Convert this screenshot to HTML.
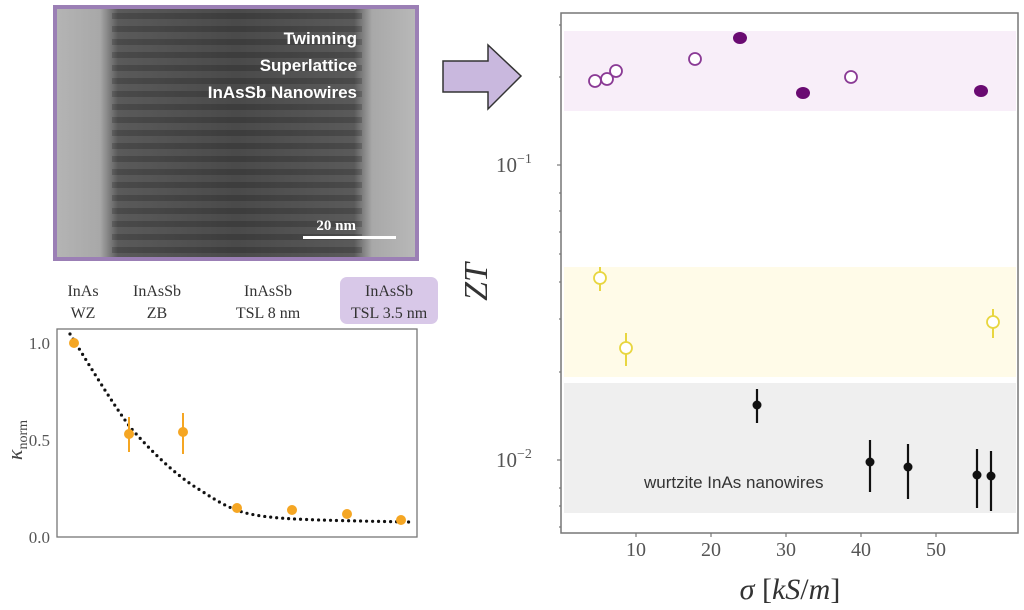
<!DOCTYPE html>
<html><head><meta charset="utf-8"><style>
html,body{margin:0;padding:0;background:#fff;width:1024px;height:610px;overflow:hidden}
svg{display:block}
.serif{font-family:"Liberation Serif",serif}
.sans{font-family:"Liberation Sans",sans-serif}
</style></head><body>
<svg width="1024" height="610" viewBox="0 0 1024 610" xmlns="http://www.w3.org/2000/svg">
<defs>
<linearGradient id="tem" x1="0" x2="1" y1="0" y2="0">
<stop offset="0" stop-color="#b4b4b4"/><stop offset="0.12" stop-color="#a8a8a8"/>
<stop offset="0.17" stop-color="#5a5a5a"/><stop offset="0.5" stop-color="#4a4a4a"/>
<stop offset="0.83" stop-color="#5a5a5a"/><stop offset="0.88" stop-color="#a8a8a8"/><stop offset="1" stop-color="#b8b8b8"/>
</linearGradient>
<pattern id="stripes" width="10" height="13" patternUnits="userSpaceOnUse">
<rect width="10" height="6" fill="#000" opacity="0.18"/>
</pattern>
</defs>
<!-- TEM image -->
<rect x="53" y="5" width="366" height="256" fill="#9b7fb5"/>
<rect x="57" y="9" width="358" height="248" fill="url(#tem)"/>
<rect x="112" y="9" width="250" height="248" fill="url(#stripes)"/>
<g class="sans" font-weight="bold" font-size="17" fill="#fff" text-anchor="end">
<text x="357" y="44">Twinning</text><text x="357" y="71">Superlattice</text><text x="357" y="98">InAsSb Nanowires</text>
</g>
<text x="356" y="230" class="serif" font-weight="bold" font-size="15" fill="#fff" text-anchor="end">20 nm</text>
<rect x="303" y="236" width="93" height="3" fill="#fff"/>
<!-- arrow -->
<path d="M443,61 L488,61 L488,45 L521,76 L488,109 L488,92 L443,92 Z" fill="#c9b8de" stroke="#333" stroke-width="1.5"/>
<!-- left labels -->
<rect x="340" y="277" width="98" height="47" rx="7" fill="#d8c8e8"/>
<g class="serif" font-size="16" fill="#333" text-anchor="middle">
<text x="83" y="296">InAs</text><text x="83" y="318">WZ</text>
<text x="157" y="296">InAsSb</text><text x="157" y="318">ZB</text>
<text x="268" y="296">InAsSb</text><text x="268" y="318">TSL 8 nm</text>
<text x="389" y="296">InAsSb</text><text x="389" y="318">TSL 3.5 nm</text>
</g>
<!-- left plot -->
<rect x="57" y="329" width="360" height="208" fill="none" stroke="#777" stroke-width="1.3"/>
<g class="serif" font-size="17" fill="#555" text-anchor="end">
<text x="50" y="349">1.0</text><text x="50" y="446">0.5</text><text x="50" y="543">0.0</text>
</g>
<text transform="translate(22,440) rotate(-90)" class="serif" font-size="22" fill="#444" text-anchor="middle"><tspan font-style="italic">κ</tspan><tspan font-size="14" dy="5">norm</tspan></text>
<path d="M70,334 C85,358 110,400 130,427 C150,450 175,475 200,490 C220,503 232,510 250,514 C275,519 300,520 410,522" fill="none" stroke="#111" stroke-width="3.2" stroke-linecap="round" stroke-dasharray="0 6"/>
<g stroke="#f5a623" stroke-width="2">
<line x1="129" y1="417" x2="129" y2="452"/><line x1="183" y1="413" x2="183" y2="454"/>
</g>
<g fill="#f5a623">
<circle cx="74" cy="343" r="5"/><circle cx="129" cy="434" r="5"/><circle cx="183" cy="432" r="5"/>
<circle cx="237" cy="508" r="5"/><circle cx="292" cy="510" r="5"/><circle cx="347" cy="514" r="5"/><circle cx="401" cy="520" r="5"/>
</g>
<!-- right plot -->
<rect x="564" y="31" width="452" height="80" fill="#f8eef9"/>
<rect x="564" y="267" width="452" height="110" fill="#fffbe8"/>
<rect x="564" y="383" width="452" height="130" fill="#efefef"/>
<rect x="561" y="13" width="457" height="520" fill="none" stroke="#777" stroke-width="1.5"/>
<g stroke="#777" stroke-width="1.2">
<line x1="557" y1="165" x2="561" y2="165"/><line x1="557" y1="460" x2="561" y2="460"/>
<line x1="559" y1="25" x2="561" y2="25"/><line x1="559" y1="77" x2="561" y2="77"/>
<line x1="559" y1="193" x2="561" y2="193"/><line x1="559" y1="211" x2="561" y2="211"/><line x1="559" y1="232" x2="561" y2="232"/><line x1="559" y1="254" x2="561" y2="254"/><line x1="559" y1="282" x2="561" y2="282"/><line x1="559" y1="319" x2="561" y2="319"/><line x1="559" y1="372" x2="561" y2="372"/>
<line x1="559" y1="488" x2="561" y2="488"/><line x1="559" y1="506" x2="561" y2="506"/><line x1="559" y1="527" x2="561" y2="527"/>
<line x1="636" y1="533" x2="636" y2="537"/><line x1="711" y1="533" x2="711" y2="537"/><line x1="786" y1="533" x2="786" y2="537"/><line x1="861" y1="533" x2="861" y2="537"/><line x1="936" y1="533" x2="936" y2="537"/>
</g>
<g class="serif" font-size="21" fill="#555">
<text x="496" y="172">10<tspan font-size="14" dy="-9">−1</tspan></text>
<text x="496" y="467">10<tspan font-size="14" dy="-9">−2</tspan></text>
</g>
<g class="serif" font-size="20" fill="#555" text-anchor="middle">
<text x="636" y="556">10</text><text x="711" y="556">20</text><text x="786" y="556">30</text><text x="861" y="556">40</text><text x="936" y="556">50</text>
</g>
<text transform="translate(487,282) rotate(-90)" class="serif" font-style="italic" font-size="34" fill="#333" text-anchor="middle">ZT</text>
<text x="790" y="599" class="serif" font-size="30" fill="#333" text-anchor="middle"><tspan font-style="italic">σ</tspan>   [<tspan font-style="italic">kS</tspan>/<tspan font-style="italic">m</tspan>]</text>
<text x="644" y="488" class="sans" font-size="17" fill="#333">wurtzite InAs nanowires</text>
<!-- purple -->
<g fill="#fff" stroke="#8a3a95" stroke-width="1.8">
<circle cx="595" cy="81" r="6"/><circle cx="607" cy="79" r="6"/><circle cx="616" cy="71" r="6"/><circle cx="695" cy="59" r="6"/><circle cx="851" cy="77" r="6"/>
</g>
<g fill="#6a0a72">
<ellipse cx="740" cy="38" rx="7" ry="6"/><ellipse cx="803" cy="93" rx="7" ry="6"/><ellipse cx="981" cy="91" rx="7" ry="6"/>
</g>
<!-- yellow -->
<g stroke="#e8d640" stroke-width="2">
<line x1="600" y1="267" x2="600" y2="291"/><line x1="626" y1="333" x2="626" y2="366"/><line x1="993" y1="309" x2="993" y2="338"/>
</g>
<g fill="#fff" stroke="#e8d640" stroke-width="1.8">
<circle cx="600" cy="278" r="6"/><circle cx="626" cy="348" r="6"/><circle cx="993" cy="322" r="6"/>
</g>
<!-- black -->
<g stroke="#111" stroke-width="2.2">
<line x1="757" y1="389" x2="757" y2="423"/><line x1="870" y1="440" x2="870" y2="492"/><line x1="908" y1="444" x2="908" y2="499"/><line x1="977" y1="449" x2="977" y2="508"/><line x1="991" y1="451" x2="991" y2="511"/>
</g>
<g fill="#111">
<circle cx="757" cy="405" r="4.5"/><circle cx="870" cy="462" r="4.5"/><circle cx="908" cy="467" r="4.5"/><circle cx="977" cy="475" r="4.5"/><circle cx="991" cy="476" r="4.5"/>
</g>
</svg>
</body></html>
